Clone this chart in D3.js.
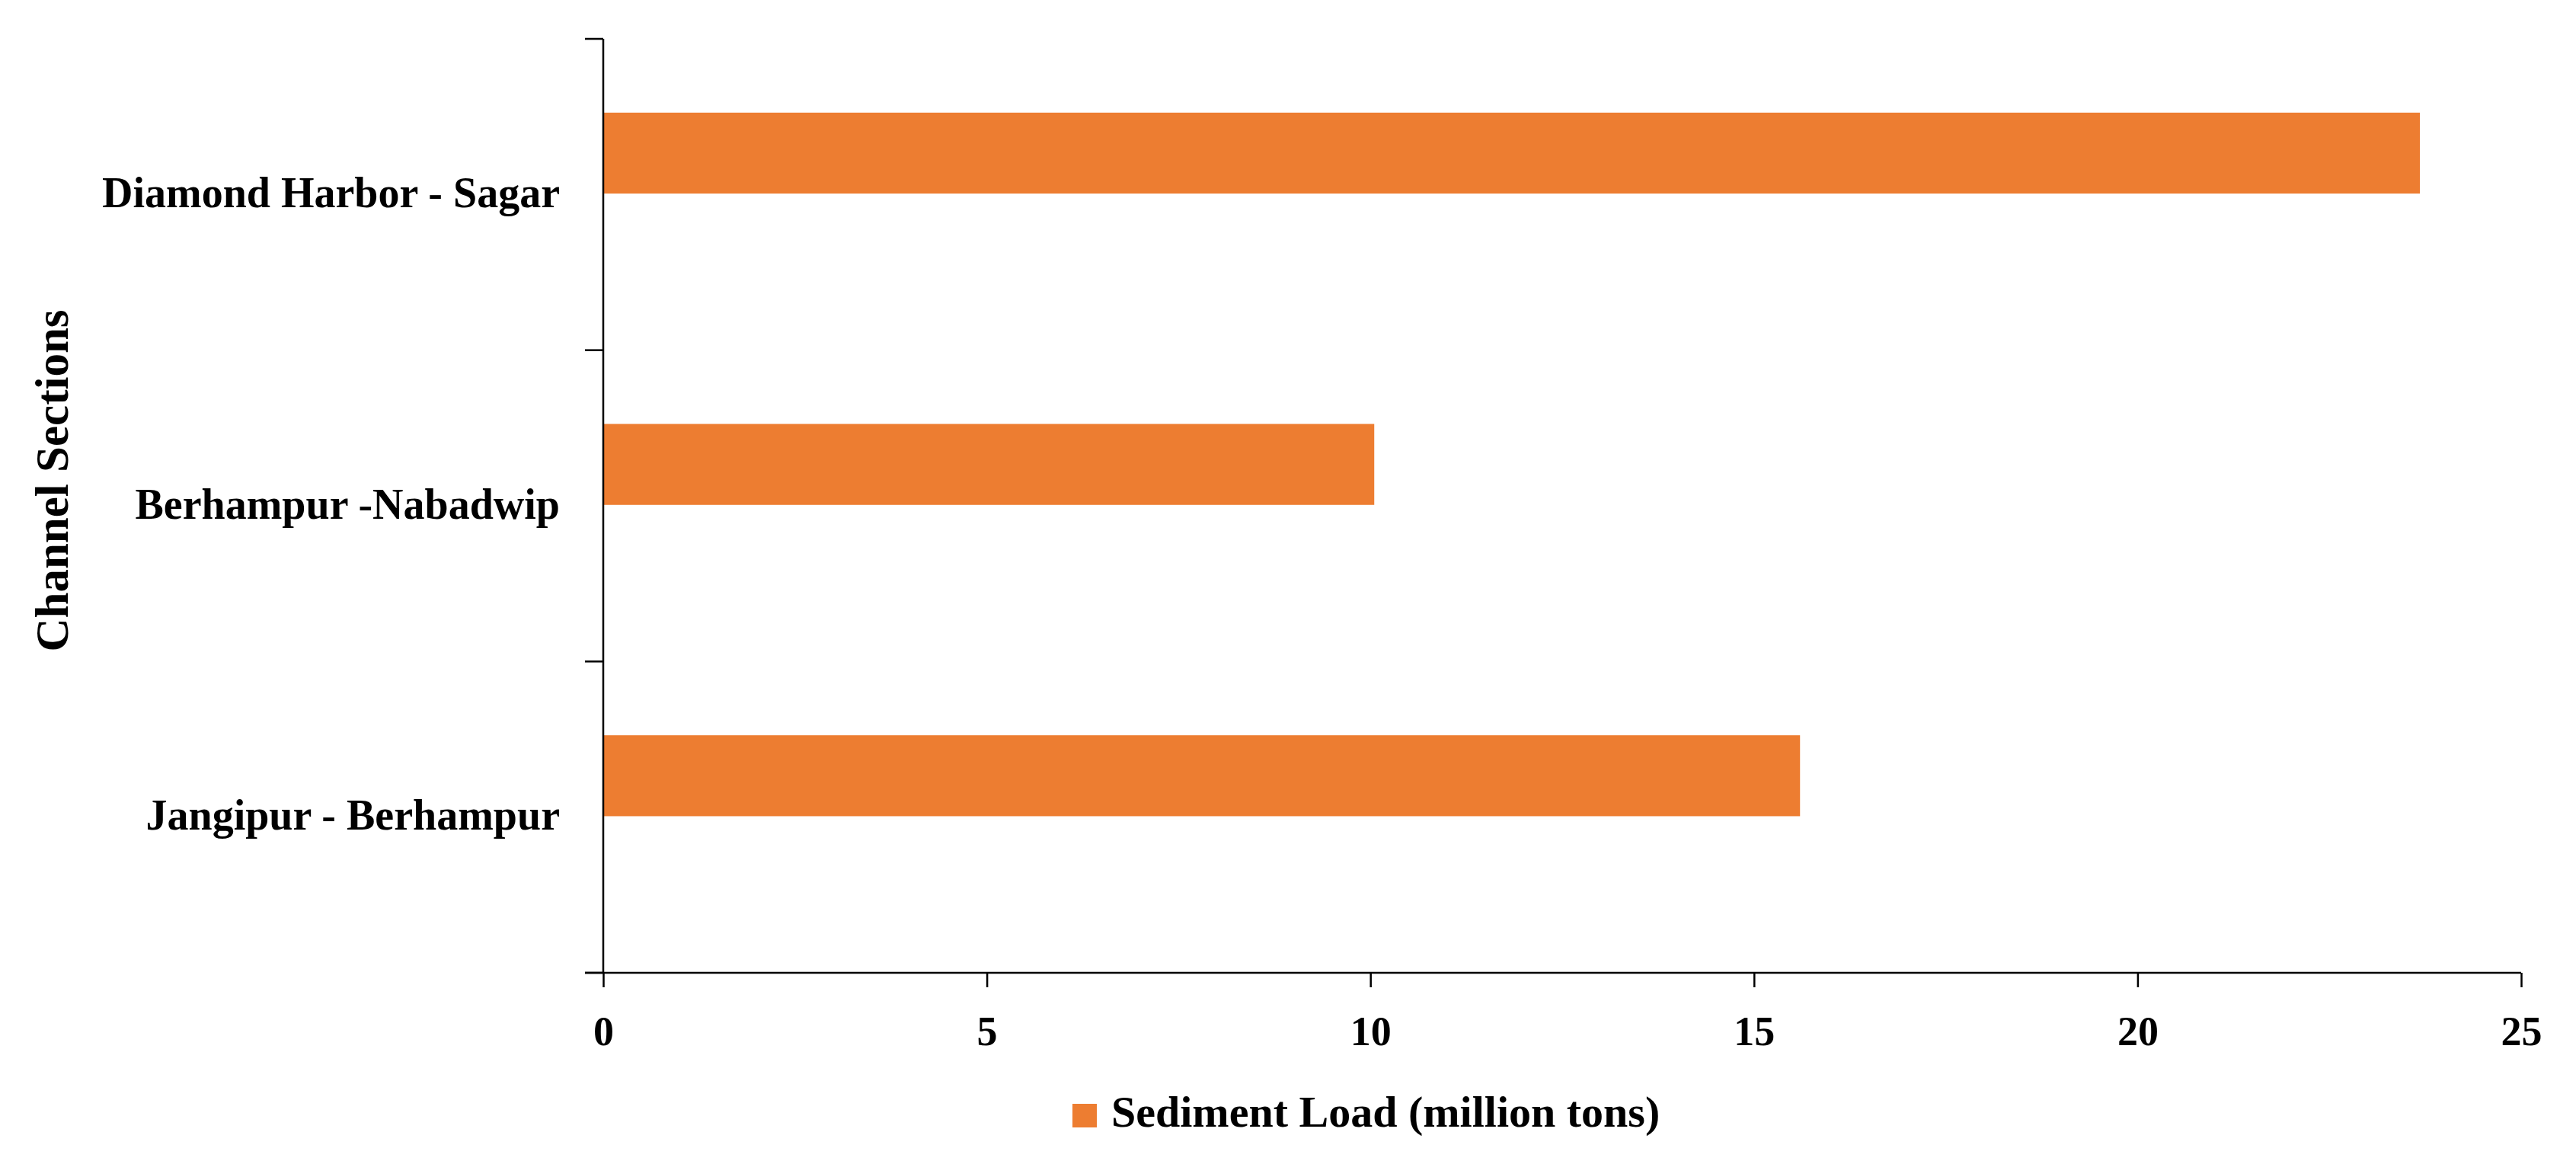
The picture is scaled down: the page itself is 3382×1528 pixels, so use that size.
<!DOCTYPE html>
<html>
<head>
<meta charset="utf-8">
<script src="https://cdn.jsdelivr.net/npm/d3@7"></script>
<style>
  body { margin: 0; background: #fff; }
  svg { display: block; }
  text { font-family: "Palatino Linotype", "Book Antiqua", Palatino, "Liberation Serif", serif; fill: #000; }
</style>
</head>
<body>
<div id="grafico"></div>
<script>
// Dati
var sezioni = ["Diamond Harbor - Sagar", "Berhampur -Nabadwip", "Jangipur - Berhampur"];
var caricoSedimenti = [23.68, 10.05, 15.6];
var tickX = [0, 5, 10, 15, 20, 25];
var nomeSerie = "Sediment Load (million tons)";
var titoloY = "Channel Sections";

var dati = sezioni.map(function(s, i) { return {sezione: s, valore: caricoSedimenti[i]}; });

// Dimensioni e margini
var W = 3382, H = 1528;
var margin = {top: 51, right: 72, bottom: 251, left: 792};
var width = W - margin.left - margin.right;
var height = H - margin.top - margin.bottom;
var arancio = "#ED7D31";

var svg = d3.select("#grafico")
	.append("svg")
	.attr("width", W)
	.attr("height", H)
	.append("g")
	.attr("transform", "translate(" + margin.left + "," + margin.top + ")");

// Scale
var x = d3.scaleLinear()
	.domain([0, 25])
	.range([0, width]);

var y = d3.scaleBand()
	.domain(sezioni)
	.range([0, height])
	.padding(0);

var bw = y.bandwidth();

// Barre (stanno nella metà alta di ogni fascia, come in Excel)
svg.append("g")
	.selectAll("rect")
	.data(dati)
	.enter()
	.append("rect")
	.attr("x", x(0))
	.attr("y", function(d) { return y(d.sezione) + bw * 0.237; })
	.attr("width", function(d) { return x(d.valore) - x(0); })
	.attr("height", bw * 0.26)
	.style("fill", arancio);

// Asse X
var assex = svg.append("g")
	.attr("transform", "translate(0," + height + ")")
	.call(d3.axisBottom(x).tickValues(tickX).tickSize(19).tickSizeOuter(0).tickPadding(38));
assex.selectAll("text")
	.style("font-family", null)
	.attr("font-size", 54)
	.attr("font-weight", "bold");

// Asse Y: tick ai confini delle categorie
var confini = sezioni.map(function(s) { return y(s); }).concat([height]);
svg.append("g")
	.selectAll("line")
	.data(confini)
	.enter()
	.append("line")
	.attr("x1", -24)
	.attr("x2", 0)
	.attr("y1", function(d) { return d; })
	.attr("y2", function(d) { return d; })
	.attr("stroke", "#000")
	.attr("stroke-width", 2.5);

svg.append("line")
	.attr("x1", 0).attr("x2", 0)
	.attr("y1", 0).attr("y2", height)
	.attr("stroke", "#000")
	.attr("stroke-width", 2.5);

assex.select(".domain").attr("stroke-width", 2.5).attr("d", "M-24,0H" + width);
assex.selectAll(".tick line").attr("stroke-width", 2.5);

// Etichette delle categorie
svg.append("g")
	.selectAll("text")
	.data(sezioni)
	.enter()
	.append("text")
	.attr("x", -57)
	.attr("y", function(d) { return y(d) + bw / 2; })
	.attr("dy", "0.3em")
	.attr("text-anchor", "end")
	.attr("font-size", 56)
	.attr("font-weight", "bold")
	.text(function(d) { return d; });

// Titolo asse Y
svg.append("text")
	.attr("transform", "translate(" + (89 - margin.left) + "," + (631 - margin.top) + ") rotate(-90)")
	.attr("text-anchor", "middle")
	.attr("font-size", 61)
	.attr("font-weight", "bold")
	.text(titoloY);

// Legenda
var legenda = svg.append("g")
	.attr("transform", "translate(" + (1408 - margin.left) + "," + (1449 - margin.top) + ")");
legenda.append("rect")
	.attr("width", 32)
	.attr("height", 31)
	.style("fill", arancio);
legenda.append("text")
	.attr("x", 51)
	.attr("y", 30)
	.attr("font-size", 58)
	.attr("font-weight", "bold")
	.text(nomeSerie);
</script>
</body>
</html>
